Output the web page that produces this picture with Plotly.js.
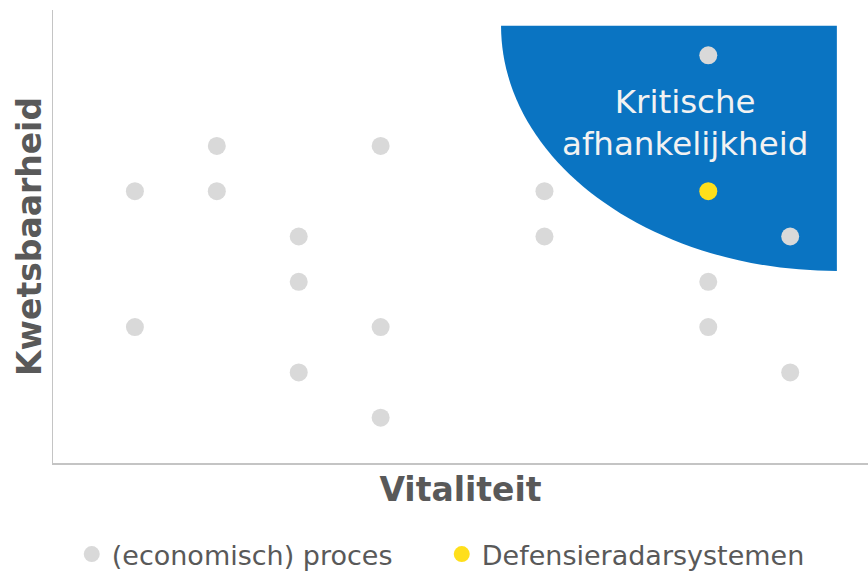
<!DOCTYPE html>
<html>
<head>
<meta charset="utf-8">
<script src="https://cdn.plot.ly/plotly-3.0.1.min.js"></script>
<style>html,body{margin:0;padding:0;background:#fff;}#chart{width:868px;height:575px;}</style>
</head>
<body>
<div id="chart"></div>
<script>
// (economisch) proces — gray points
const procesX = [1, 1, 2, 2, 3, 3, 3, 4, 4, 4, 6, 6, 8, 8, 8, 9, 9];
const procesY = [6, 3, 7, 6, 5, 4, 2, 7, 3, 1, 6, 5, 9, 4, 3, 5, 2];
// Defensieradarsystemen — yellow point
const radarX = [8];
const radarY = [6];

const seriesNames = ['(economisch) proces', 'Defensieradarsystemen'];
const xTitle = 'Vitaliteit';
const yTitle = 'Kwetsbaarheid';
const zoneLabel = 'Kritische<br>afhankelijkheid';

// critical-dependency zone: quarter ellipse anchored at its top-right corner (data units)
const zoneCx = 9.57, zoneCy = 9.65, zoneA = 4.10, zoneB = 5.41;
const k = 0.5523;
const zonePath =
  'M ' + (zoneCx - zoneA) + ',' + zoneCy +
  ' C ' + (zoneCx - zoneA) + ',' + (zoneCy - k * zoneB) + ' ' +
  (zoneCx - k * zoneA) + ',' + (zoneCy - zoneB) + ' ' +
  zoneCx + ',' + (zoneCy - zoneB) +
  ' L ' + zoneCx + ',' + zoneCy + ' Z';

const FONT = 'DejaVu Sans, Verdana, sans-serif';
const TXT = '#595959';

const traces = [
  {
    type: 'scatter', mode: 'markers', name: seriesNames[0],
    x: procesX, y: procesY,
    marker: {color: '#d9d9d9', size: 18},
    legend: 'legend', hoverinfo: 'x+y'
  },
  {
    type: 'scatter', mode: 'markers', name: seriesNames[1],
    x: radarX, y: radarY,
    marker: {color: '#ffdf1b', size: 18},
    legend: 'legend2', hoverinfo: 'x+y'
  }
];

const legendCommon = {
  orientation: 'h', yanchor: 'middle', xanchor: 'left',
  font: {family: FONT, size: 27, color: TXT},
  bgcolor: 'rgba(0,0,0,0)', borderwidth: 0,
  itemwidth: 30, itemsizing: 'trace'
};

const layout = {
  width: 868, height: 575,
  margin: {l: 53, r: 0, t: 10, b: 112, autoexpand: false},
  paper_bgcolor: '#ffffff', plot_bgcolor: '#ffffff',
  font: {family: FONT, color: TXT},
  showlegend: true,
  legend: Object.assign({}, legendCommon, {x: 0.023, y: -0.202}),
  legend2: Object.assign({}, legendCommon, {x: 0.477, y: -0.202}),
  xaxis: {
    range: [0, 9.95], showgrid: false, zeroline: false,
    showticklabels: false, ticks: '',
    showline: true, linecolor: '#c4c4c4', linewidth: 1.5,
    title: {text: xTitle, font: {family: FONT, size: 33, color: TXT, weight: 'bold'}, standoff: 14}
  },
  yaxis: {
    range: [0, 10], showgrid: false, zeroline: false,
    showticklabels: false, ticks: '',
    showline: true, linecolor: '#c4c4c4', linewidth: 1.5,
    title: {text: yTitle, font: {family: FONT, size: 33, color: TXT, weight: 'bold'}, standoff: 0}
  },
  shapes: [{
    type: 'path', xref: 'x', yref: 'y', layer: 'below',
    path: zonePath, fillcolor: '#0a74c2', line: {width: 0}
  }],
  annotations: [{
    xref: 'x', yref: 'y', x: 7.72, y: 7.5,
    text: zoneLabel, showarrow: false, align: 'center',
    font: {family: FONT, size: 32.5, color: '#f2f2f2'}
  }]
};

Plotly.newPlot('chart', traces, layout, {displayModeBar: false, staticPlot: true});
</script>
</body>
</html>
